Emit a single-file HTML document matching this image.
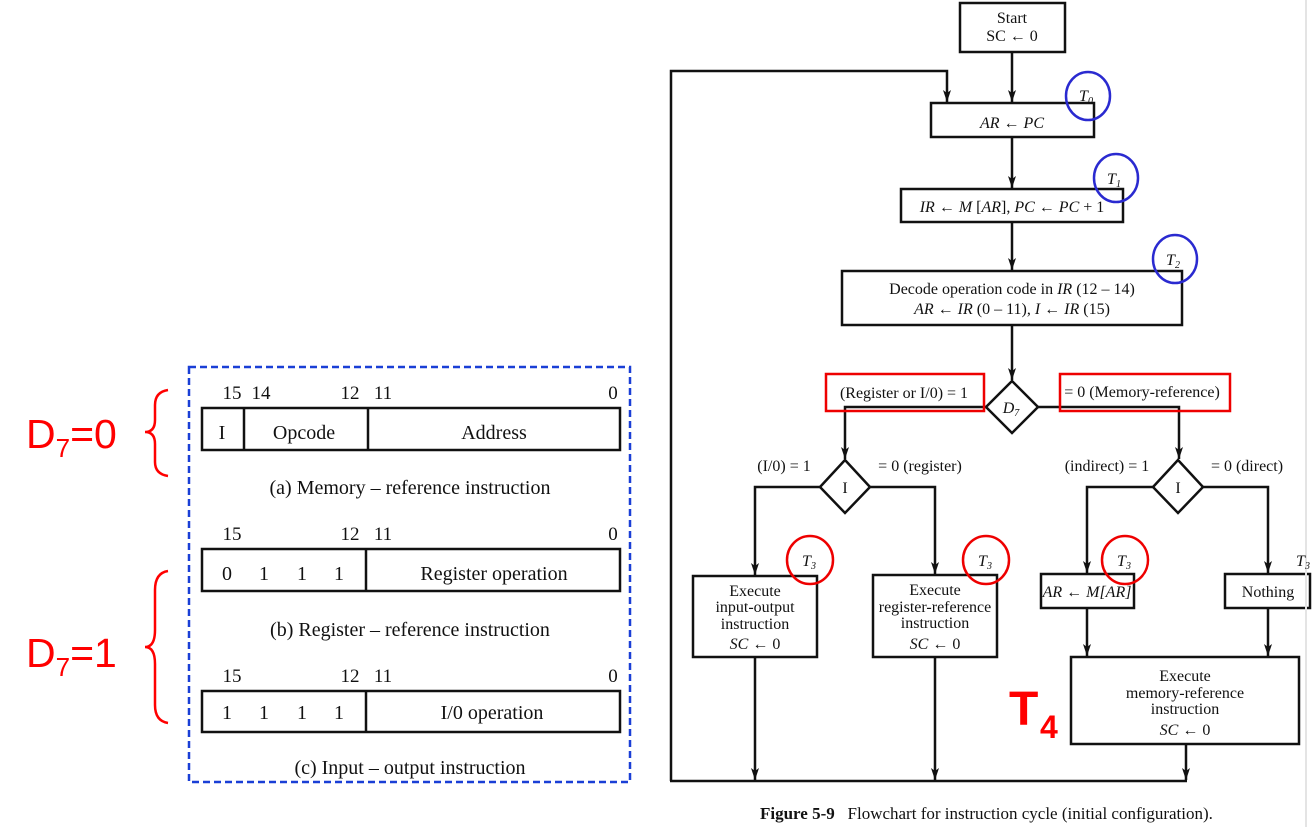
<!DOCTYPE html>
<html><head><meta charset="utf-8"><style>
html,body{margin:0;padding:0;background:#fff;}
svg{display:block;}
.s{font-family:"Liberation Serif",serif;fill:#111;}
</style></head><body>
<svg width="1314" height="827" viewBox="0 0 1314 827" xmlns="http://www.w3.org/2000/svg">
<defs>
<marker id="a" markerWidth="13" markerHeight="8" refX="12" refY="4" orient="auto" markerUnits="userSpaceOnUse">
<path d="M0,0 L12,4 L0,8 L3,4 Z" fill="#111"/>
</marker>
</defs>
<!-- LEFT PANEL -->
<rect x="189" y="367" width="441" height="415" fill="none" stroke="#1a3fd6" stroke-width="2.5" stroke-dasharray="7,4"/>
<g class="s" font-size="19" text-anchor="middle">
<text x="232" y="399">15</text><text x="261" y="399">14</text><text x="350" y="399">12</text><text x="383" y="399">11</text><text x="613" y="399">0</text>
<text x="232" y="540">15</text><text x="350" y="540">12</text><text x="383" y="540">11</text><text x="613" y="540">0</text>
<text x="232" y="682">15</text><text x="350" y="682">12</text><text x="383" y="682">11</text><text x="613" y="682">0</text>
</g>
<g fill="none" stroke="#111" stroke-width="2.5">
<rect x="202" y="408" width="418" height="42"/><line x1="244" y1="408" x2="244" y2="450"/><line x1="368" y1="408" x2="368" y2="450"/>
<rect x="202" y="549" width="418" height="42"/><line x1="366" y1="549" x2="366" y2="591"/>
<rect x="202" y="691" width="418" height="41"/><line x1="366" y1="691" x2="366" y2="732"/>
</g>
<g class="s" font-size="20" text-anchor="middle">
<text x="222" y="439">I</text><text x="304" y="439">Opcode</text><text x="494" y="439">Address</text>
<text x="410" y="494">(a) Memory – reference instruction</text>
<text x="227" y="580">0</text><text x="264" y="580">1</text><text x="302" y="580">1</text><text x="339" y="580">1</text>
<text x="494" y="580">Register operation</text>
<text x="410" y="636">(b) Register – reference instruction</text>
<text x="227" y="719">1</text><text x="264" y="719">1</text><text x="302" y="719">1</text><text x="339" y="719">1</text>
<text x="492" y="719">I/0 operation</text>
<text x="410" y="774">(c) Input – output instruction</text>
</g>
<g font-family="'Liberation Sans',sans-serif" fill="#f00">
<text x="26" y="448" font-size="41">D<tspan font-size="26" dy="9">7</tspan><tspan dy="-9">=0</tspan></text>
<text x="26" y="667" font-size="41">D<tspan font-size="26" dy="9">7</tspan><tspan dy="-9">=1</tspan></text>
</g>
<g fill="none" stroke="#f00" stroke-width="2.5">
<path d="M168,390 Q155,392 155,405 L155,420 Q155,432 145,432 Q155,432 155,444 L155,462 Q155,474 168,476"/>
<path d="M168,571 Q155,573 155,590 L155,630 Q155,647 145,647 Q155,647 155,664 L155,705 Q155,721 168,723"/>
</g>
<!-- FLOWCHART -->
<g fill="none" stroke="#111" stroke-width="2.5">
<rect x="960" y="3" width="105" height="49"/>
<rect x="931" y="103" width="163" height="34"/>
<rect x="901" y="189" width="222" height="33"/>
<rect x="842" y="271" width="340" height="54"/>
<path d="M1012,381 L1038,407 L1012,433 L986,407 Z"/>
<path d="M845,460 L870,487 L845,513 L820,487 Z"/>
<path d="M1178,460 L1203,487 L1178,513 L1153,487 Z"/>
<rect x="693" y="576" width="124" height="81"/>
<rect x="873" y="575" width="124" height="82"/>
<rect x="1041" y="574" width="93" height="34"/>
<rect x="1225" y="574" width="85" height="34"/>
<rect x="1071" y="657" width="228" height="87"/>
<line x1="1012" y1="52" x2="1012" y2="102" marker-end="url(#a)"/>
<polyline points="671,781 671,71 947,71 947,102" marker-end="url(#a)"/>
<line x1="1012" y1="137" x2="1012" y2="188" marker-end="url(#a)"/>
<line x1="1012" y1="222" x2="1012" y2="270" marker-end="url(#a)"/>
<line x1="1012" y1="325" x2="1012" y2="380" marker-end="url(#a)"/>
<polyline points="986,407 845,407 845,459" marker-end="url(#a)"/>
<polyline points="1038,407 1179,407 1179,459" marker-end="url(#a)"/>
<polyline points="820,487 755,487 755,575" marker-end="url(#a)"/>
<polyline points="870,487 935,487 935,574" marker-end="url(#a)"/>
<polyline points="1153,487 1087,487 1087,573" marker-end="url(#a)"/>
<polyline points="1203,487 1268,487 1268,573" marker-end="url(#a)"/>
<line x1="1087" y1="608" x2="1087" y2="656" marker-end="url(#a)"/>
<line x1="1268" y1="608" x2="1268" y2="656" marker-end="url(#a)"/>
<line x1="755" y1="657" x2="755" y2="780" marker-end="url(#a)"/>
<line x1="935" y1="657" x2="935" y2="780" marker-end="url(#a)"/>
<line x1="1186" y1="744" x2="1186" y2="780" marker-end="url(#a)"/>
<line x1="670" y1="781" x2="1187" y2="781"/>
</g>
<line x1="1306" y1="0" x2="1306" y2="827" stroke="#e4e4e4" stroke-width="2"/>
<g class="s" font-size="16" text-anchor="middle" xml:space="preserve">
<text x="1012" y="23">Start</text>
<text x="1012" y="41">SC ← 0</text>
<text x="1012" y="128" font-style="italic">AR ← PC</text>
<text x="1012" y="212"><tspan font-style="italic">IR</tspan> ← <tspan font-style="italic">M</tspan> [<tspan font-style="italic">AR</tspan>],  <tspan font-style="italic">PC</tspan> ← <tspan font-style="italic">PC</tspan> + 1</text>
<text x="1012" y="294">Decode operation code in <tspan font-style="italic">IR</tspan> (12 – 14)</text>
<text x="1012" y="314"><tspan font-style="italic">AR</tspan> ← <tspan font-style="italic">IR</tspan> (0 – 11),  <tspan font-style="italic">I</tspan> ← <tspan font-style="italic">IR</tspan> (15)</text>
<text x="1011" y="413" font-style="italic">D<tspan font-size="10" dy="3">7</tspan></text>
<text x="904" y="398">(Register or I/0)  = 1</text>
<text x="1142" y="397">= 0  (Memory-reference)</text>
<text x="845" y="493">I</text><text x="1178" y="493">I</text>
<text x="784" y="471">(I/0)  = 1</text>
<text x="920" y="471">= 0  (register)</text>
<text x="1107" y="471">(indirect)  = 1</text>
<text x="1247" y="471">= 0  (direct)</text>
<text x="755" y="596">Execute</text><text x="755" y="612">input-output</text><text x="755" y="629">instruction</text><text x="755" y="649"><tspan font-style="italic">SC</tspan> ← 0</text>
<text x="935" y="595">Execute</text><text x="935" y="612">register-reference</text><text x="935" y="628">instruction</text><text x="935" y="649"><tspan font-style="italic">SC</tspan> ← 0</text>
<text x="1087" y="597" font-style="italic">AR ←  M[AR]</text>
<text x="1268" y="597">Nothing</text>
<text x="1185" y="681">Execute</text><text x="1185" y="698">memory-reference</text><text x="1185" y="714">instruction</text><text x="1185" y="735"><tspan font-style="italic">SC</tspan> ← 0</text>
<g font-style="italic">
<text x="1086" y="101">T<tspan font-size="10" dy="3">0</tspan></text>
<text x="1114" y="184">T<tspan font-size="10" dy="3">1</tspan></text>
<text x="1173" y="265">T<tspan font-size="10" dy="3">2</tspan></text>
<text x="809" y="566">T<tspan font-size="10" dy="3">3</tspan></text>
<text x="985" y="566">T<tspan font-size="10" dy="3">3</tspan></text>
<text x="1124" y="566">T<tspan font-size="10" dy="3">3</tspan></text>
<text x="1303" y="566">T<tspan font-size="10" dy="3">3</tspan></text>
</g>
</g>
<g fill="none" stroke="#2a2ad0" stroke-width="2.5">
<ellipse cx="1088" cy="96" rx="22" ry="24"/>
<ellipse cx="1116" cy="178" rx="22" ry="24"/>
<ellipse cx="1175" cy="259" rx="22" ry="24"/>
</g>
<g fill="none" stroke="#e00" stroke-width="2.5">
<ellipse cx="810" cy="560" rx="23" ry="24"/>
<ellipse cx="986" cy="560" rx="23" ry="24"/>
<ellipse cx="1125" cy="560" rx="23" ry="24"/>
<rect x="826" y="374" width="158" height="37"/>
<rect x="1060" y="374" width="170" height="37"/>
</g>
<g font-family="'Liberation Sans',sans-serif" font-weight="bold" fill="#f00">
<text x="1009" y="725" font-size="48">T</text>
<text x="1040" y="738" font-size="32">4</text>
</g>
<text x="760" y="819" class="s" font-size="17" xml:space="preserve"><tspan font-weight="bold">Figure 5-9</tspan>   Flowchart for instruction cycle (initial configuration).</text>
</svg>
</body></html>
